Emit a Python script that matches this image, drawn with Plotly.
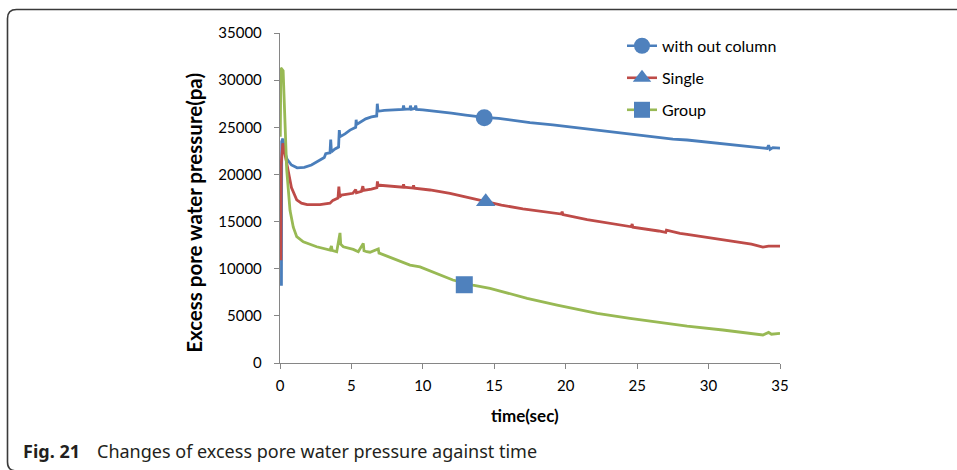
import plotly.graph_objects as go

# ---- measured excess pore water pressure (Pa) vs time (s) ----
t_without = [0.10, 0.12, 0.20, 0.35, 0.5, 0.8, 1.2, 1.7, 2.2, 2.7, 3.1, 3.2, 3.5, 3.55, 3.6,
             3.85, 4.1, 4.15, 4.2, 4.55, 4.9, 5.3, 5.33, 5.37, 5.6, 6.0, 6.4, 6.77, 6.81, 6.86,
             7.3, 8.0, 8.6, 8.65, 8.7, 9.1, 9.13, 9.2, 9.45, 9.5, 9.55, 10.0, 11.0, 12.0, 13.0,
             14.3, 15.3, 16.5, 17.5, 19.1, 20.5, 22.0, 23.5, 24.7, 26.0, 27.5, 28.5, 30.0, 31.0,
             32.2, 33.5, 34.1, 34.2, 34.3, 34.5, 35.0]
p_without = [8200, 23500, 23800, 22300, 21600, 21000, 20700, 20750, 21000, 21400, 21800, 22200,
             22300, 23700, 22400, 22700, 22900, 24700, 24000, 24300, 24700, 25000, 25800, 25300,
             25500, 25900, 26100, 26200, 27500, 26700, 26800, 26850, 26900, 27300, 26900, 26950,
             27300, 26900, 27000, 27300, 26900, 26850, 26700, 26500, 26300, 26050, 25950, 25700,
             25500, 25250, 25000, 24700, 24400, 24180, 23950, 23750, 23650, 23400, 23250, 23100,
             22850, 22750, 23100, 22650, 22850, 22800]

t_single = [0.06, 0.08, 0.20, 0.30, 0.57, 0.8, 1.17, 1.5, 1.9, 2.8, 3.5, 3.7, 4.06, 4.12, 4.18,
            4.3, 5.1, 5.3, 5.35, 5.7, 5.8, 5.85, 6.4, 6.78, 6.82, 6.87, 7.0, 8.0, 8.6, 8.65, 8.7,
            9.3, 9.35, 9.4, 10.5, 11.9, 13.0, 14.4, 15.5, 17.0, 18.5, 19.7, 19.75, 19.8, 21.5,
            23.0, 24.6, 24.65, 24.7, 26.5, 27.0, 27.05, 28.0, 28.5, 30.0, 31.5, 33.0, 33.8, 34.2,
            35.0]
p_single = [10900, 21000, 23300, 22500, 20400, 18600, 17300, 16950, 16800, 16800, 16950, 17250,
            17500, 18700, 17600, 17800, 18000, 18400, 18050, 18200, 18750, 18300, 18450, 18600,
            19250, 18800, 18850, 18750, 18650, 18950, 18650, 18550, 18850, 18550, 18350, 18000,
            17600, 17100, 16750, 16350, 16000, 15800, 16050, 15750, 15200, 14800, 14450, 14750,
            14400, 14000, 13850, 14100, 13750, 13650, 13300, 12950, 12600, 12300, 12400, 12400]

t_group = [0.02, 0.06, 0.22, 0.35, 0.47, 0.7, 0.93, 1.17, 1.63, 2.57, 3.5, 3.6, 3.65, 3.97, 4.2,
           4.25, 4.43, 5.13, 5.48, 5.83, 5.88, 6.07, 6.3, 6.88, 6.93, 7.0, 7.47, 8.17, 8.63, 9.1,
           9.8, 11.2, 12.1, 12.9, 13.5, 14.7, 16.0, 17.3, 19.4, 20.5, 21.0, 22.2, 24.5, 27.1,
           28.5, 31.0, 33.8, 34.2, 34.4, 35.0]
p_group = [24000, 31300, 31000, 25000, 20500, 16200, 14400, 13400, 12850, 12330, 11980, 12400,
           11950, 11800, 13800, 12600, 12330, 12050, 11800, 12690, 11900, 11800, 11750, 12090,
           11650, 11630, 11350, 10920, 10640, 10390, 10200, 9330, 8800, 8500, 8270, 7920, 7400,
           6860, 6150, 5800, 5650, 5270, 4740, 4210, 3920, 3500, 2970, 3250, 3050, 3150]

series_names = ["with out column", "Single", "Group"]
# one highlighted sample per series
marker_t = [14.3, 14.4, 12.9]
marker_p = [26000, 17100, 8300]
marker_symbols = ["circle", "triangle-up", "square"]

x_ticks = [0, 5, 10, 15, 20, 25, 30, 35]
y_ticks = [0, 5000, 10000, 15000, 20000, 25000, 30000, 35000]

line_colors = ["#4A7EBB", "#BE4B48", "#98B954"]
marker_color = "#4F81BD"

series = [(t_without, p_without), (t_single, p_single), (t_group, p_group)]
legend_ids = ["legend", "legend2", "legend3"]

fig = go.Figure()
for i, (tt, pp) in enumerate(series):
    fig.add_trace(go.Scatter(x=tt, y=pp, mode="lines", showlegend=False,
                             line=dict(color=line_colors[i], width=2.8)))
for i in range(3):
    fig.add_trace(go.Scatter(x=[marker_t[i]], y=[marker_p[i]], mode="markers", showlegend=False,
                             marker=dict(symbol=marker_symbols[i], size=17, color=marker_color,
                                         line=dict(width=0))))
    # legend entry: series line colour with the blue marker
    fig.add_trace(go.Scatter(x=[None], y=[None], mode="lines+markers", name=series_names[i],
                             legend=legend_ids[i],
                             line=dict(color=line_colors[i], width=2.6),
                             marker=dict(symbol=marker_symbols[i], size=16, color=marker_color)))

axis_common = dict(showline=True, linecolor="#868686", linewidth=1.4, ticks="outside",
                   ticklen=5, tickcolor="#868686", tickwidth=1.2, showgrid=False,
                   zeroline=False, tickfont=dict(family="Lato", size=15, color="#000000"))

fig.update_xaxes(range=[0, 35], tickvals=x_ticks, ticktext=[str(v) for v in x_ticks],
                 ticklabelstandoff=4, **axis_common)
fig.update_yaxes(range=[0, 35000], tickvals=y_ticks, ticktext=[str(v) for v in y_ticks],
                 ticklabelstandoff=9, **axis_common)

legend_rows_y = [0.961, 0.864, 0.767]
legend_layout = {}
for lid, ly in zip(legend_ids, legend_rows_y):
    legend_layout[lid] = dict(x=0.684, y=ly, xanchor="left", yanchor="middle",
                              bgcolor="rgba(0,0,0,0)", borderwidth=0,
                              font=dict(family="Lato", size=16, color="#000000"))

fig.update_layout(
    width=957, height=470,
    margin=dict(l=280, r=177, t=33, b=107),
    paper_bgcolor="white", plot_bgcolor="white",
    **legend_layout,
)

# axis titles
fig.add_annotation(text="<b>Excess pore water pressure(pa)</b>", xref="paper", yref="paper",
                   x=-0.172, y=0.455, xanchor="center", yanchor="middle", textangle=-90,
                   showarrow=False, font=dict(family="Lato", size=20.5, color="#000000"))
fig.add_annotation(text="<b>time(sec)</b>", xref="paper", yref="paper",
                   x=0.49, y=-0.158, xanchor="center", yanchor="middle", showarrow=False,
                   font=dict(family="Lato", size=17, color="#000000"))

# figure caption
fig.add_annotation(text="<b>Fig. 21</b>", xref="paper", yref="paper", x=-0.518, y=-0.267,
                   xanchor="left", yanchor="middle", showarrow=False,
                   font=dict(family="Noto Sans", size=18, color="#231F20"))
fig.add_annotation(text="Changes of excess pore water pressure against time", xref="paper",
                   yref="paper", x=-0.37, y=-0.267, xanchor="left", yanchor="middle",
                   showarrow=False, font=dict(family="Noto Sans", size=18, color="#231F20"))

# rounded frame (top and left edges)
fig.add_shape(type="path", xref="paper", yref="paper",
              path="M 1.36,1.0712 L -0.527,1.0712 Q -0.545,1.0712 -0.545,1.044 "
                   "L -0.545,-0.30 Q -0.545,-0.327 -0.527,-0.327",
              line=dict(color="#3A3A3A", width=1.6))

fig.write_html("out.html")
